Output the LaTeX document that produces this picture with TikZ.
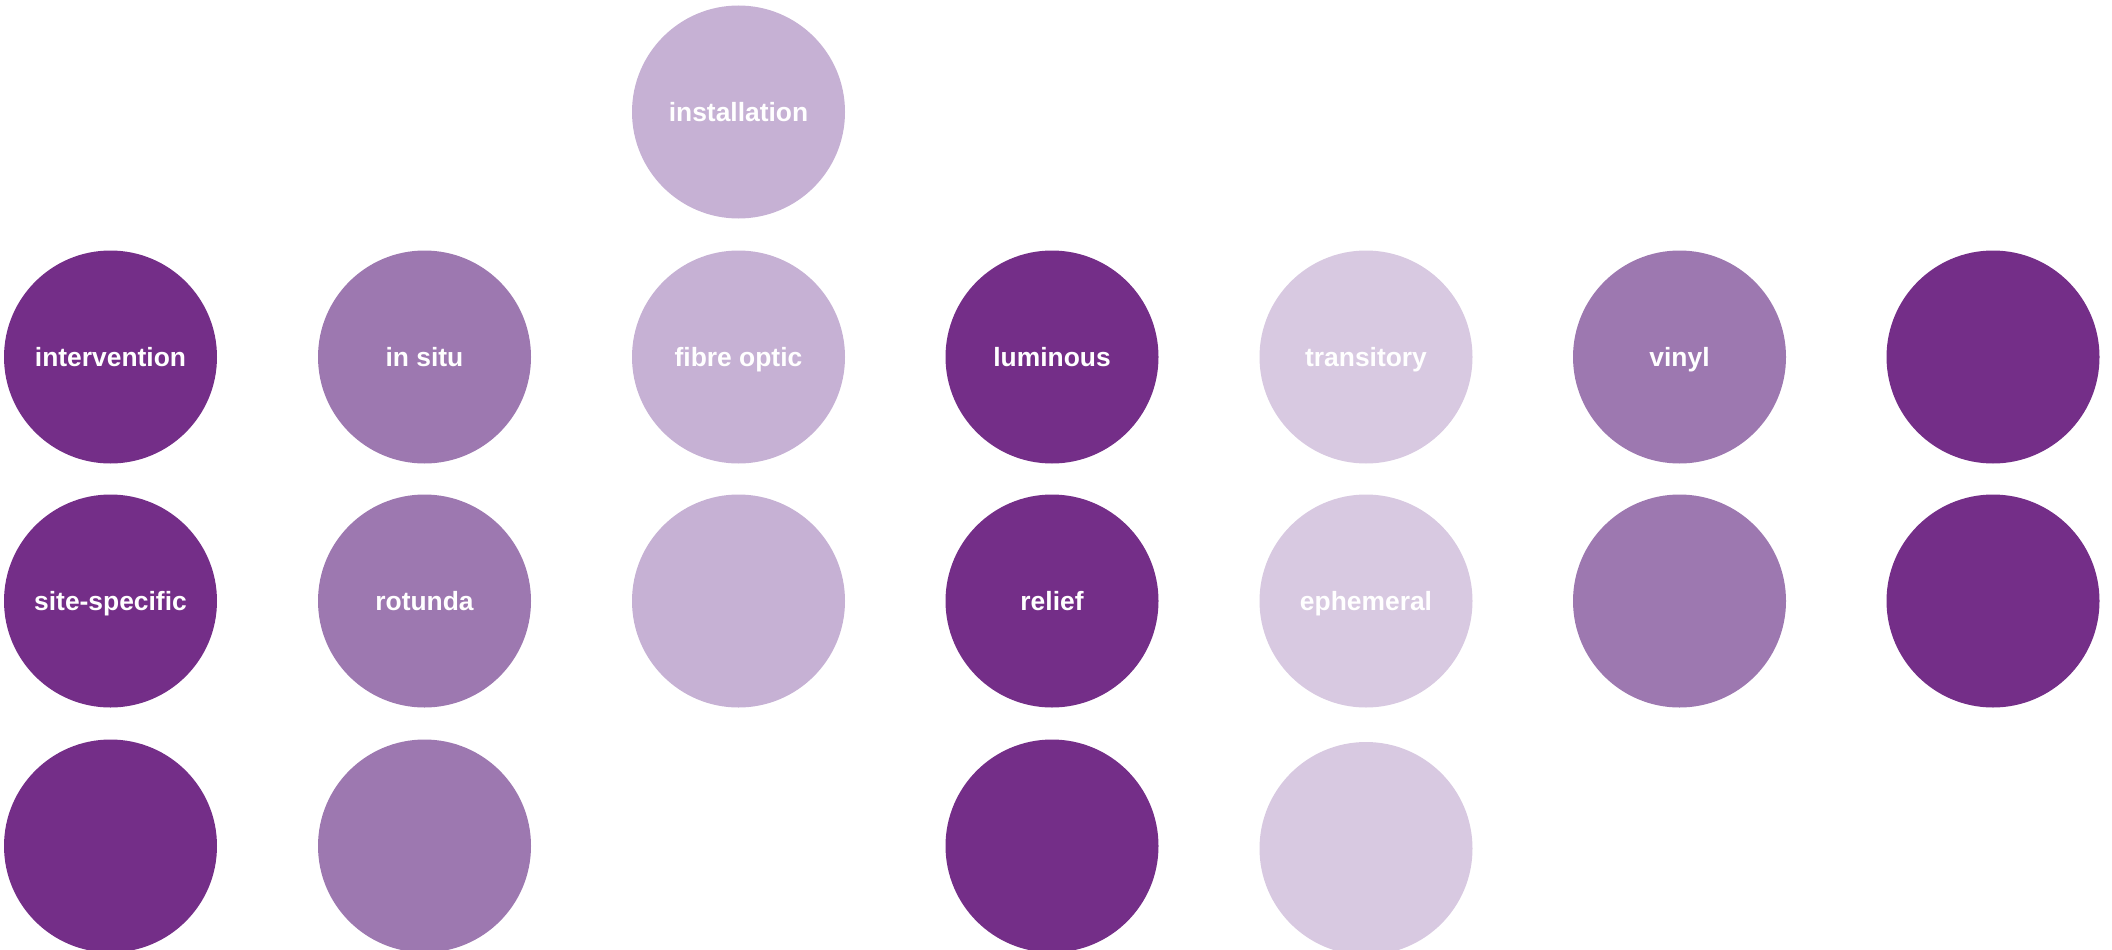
\documentclass[tikz,border=0pt]{standalone}
\usepackage{fontspec}
\setmainfont{Liberation Sans}
\definecolor{cdark}{RGB}{116,46,136}
\definecolor{cmed}{RGB}{157,120,176}
\definecolor{clight}{RGB}{198,177,212}
\definecolor{clightest}{RGB}{216,201,225}
\tikzset{
  dot/.style={circle, inner sep=0pt, minimum size=213pt, draw=none},
  lbl/.style={anchor=base, text=white, font=\fontsize{26.4pt}{30pt}\selectfont\bfseries, inner sep=0pt}
}
\begin{document}
\begin{tikzpicture}[x=1pt,y=-1pt]
\useasboundingbox (0,0) rectangle (2112,950);
% column 1
\node[dot, fill=cdark] (c1r1) at (110.5,357) {};
\node[dot, fill=cdark] (c1r2) at (110.5,601) {};
\node[dot, fill=cdark] (c1r3) at (110.5,846) {};
% column 2
\node[dot, fill=cmed] (c2r1) at (424.5,357) {};
\node[dot, fill=cmed] (c2r2) at (424.5,601) {};
\node[dot, fill=cmed] (c2r3) at (424.5,846) {};
% column 3
\node[dot, fill=clight] (c3r0) at (738.5,112) {};
\node[dot, fill=clight] (c3r1) at (738.5,357) {};
\node[dot, fill=clight] (c3r2) at (738.5,601) {};
% column 4
\node[dot, fill=cdark] (c4r1) at (1052,357) {};
\node[dot, fill=cdark] (c4r2) at (1052,601) {};
\node[dot, fill=cdark] (c4r3) at (1052,846) {};
% column 5
\node[dot, fill=clightest] (c5r1) at (1366,357) {};
\node[dot, fill=clightest] (c5r2) at (1366,601) {};
\node[dot, fill=clightest] (c5r3) at (1366,848.5) {};
% column 6
\node[dot, fill=cmed] (c6r1) at (1679.5,357) {};
\node[dot, fill=cmed] (c6r2) at (1679.5,601) {};
% column 7
\node[dot, fill=cdark] (c7r1) at (1993,357) {};
\node[dot, fill=cdark] (c7r2) at (1993,601) {};
% labels
\node[lbl] (t1) at ([yshift=-9.5pt]c1r1.center) {intervention};
\node[lbl] (t2) at ([yshift=-9.5pt]c1r2.center) {site-specific};
\node[lbl] (t3) at ([yshift=-9.5pt]c2r1.center) {in situ};
\node[lbl] (t4) at ([yshift=-9.5pt]c2r2.center) {rotunda};
\node[lbl] (t5) at ([yshift=-9.5pt]c3r0.center) {installation};
\node[lbl] (t6) at ([yshift=-9.5pt]c3r1.center) {fibre optic};
\node[lbl] (t7) at ([yshift=-9.5pt]c4r1.center) {luminous};
\node[lbl] (t8) at ([yshift=-9.5pt]c4r2.center) {relief};
\node[lbl] (t9) at ([yshift=-9.5pt]c5r1.center) {transitory};
\node[lbl] (t10) at ([yshift=-9.5pt]c5r2.center) {ephemeral};
\node[lbl] (t11) at ([yshift=-9.5pt]c6r1.center) {vinyl};
\end{tikzpicture}
\end{document}
